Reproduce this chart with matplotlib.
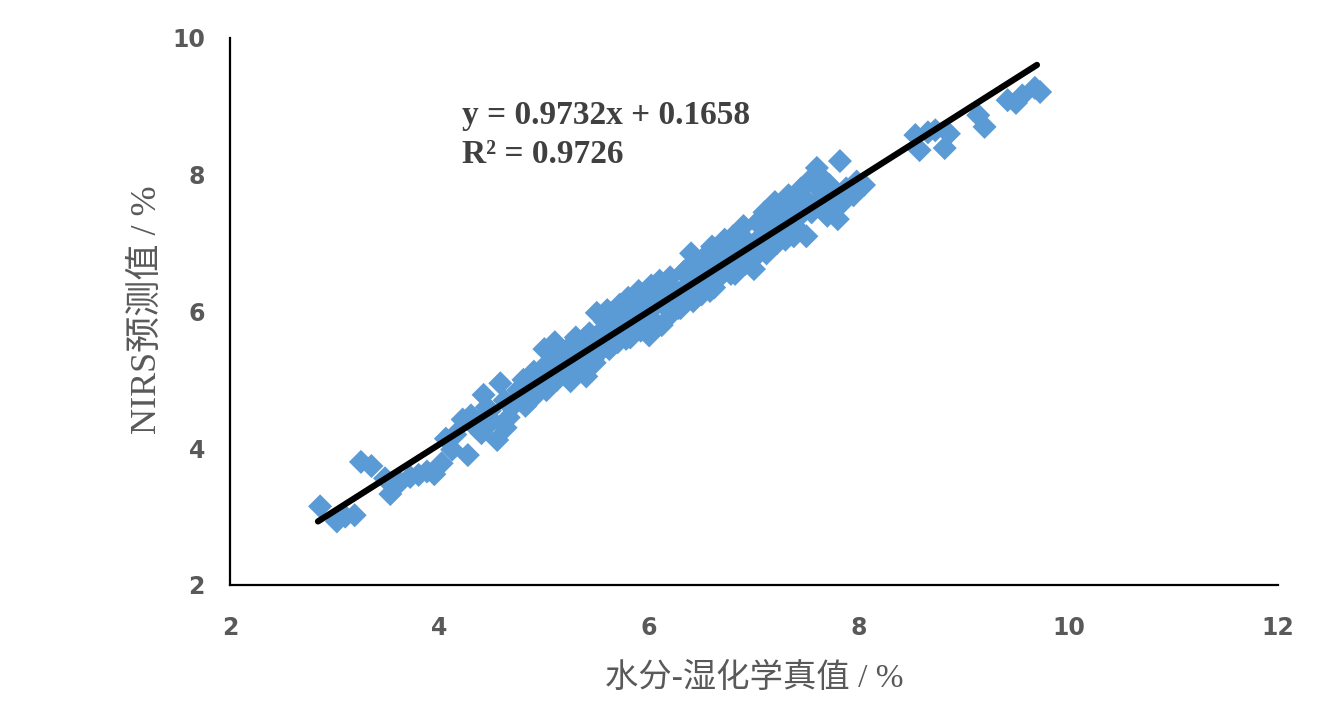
import matplotlib
matplotlib.use("Agg")
import matplotlib.pyplot as plt

# ---- data ----
x_true = [2.86, 3.02, 3.10, 3.19, 3.25, 3.35, 3.48, 3.53, 3.62, 3.72, 3.80, 3.88, 3.95, 4.02, 4.06,
          4.12, 4.22, 4.27, 4.30, 4.35, 4.40, 4.45, 4.50, 4.55, 4.58, 4.62, 4.66, 4.70, 4.75,
          4.80, 4.82, 4.85, 4.90, 4.92, 4.95, 5.00, 5.02, 5.05, 5.10, 5.12, 5.15,
          5.20, 5.22, 5.25, 5.30, 5.33, 5.36, 5.40, 5.43, 5.46, 5.50, 5.52, 5.55,
          5.60, 5.62, 5.65, 5.70, 5.72, 5.75, 5.80, 5.82, 5.85, 5.90, 5.92, 5.95,
          6.00, 6.02, 6.05, 6.10, 6.12, 6.15, 6.20, 6.22, 6.25, 6.30, 6.33, 6.36,
          6.40, 6.42, 6.45, 6.50, 6.53, 6.56, 6.60, 6.62, 6.65, 6.70, 6.72, 6.75,
          6.80, 6.82, 6.85, 6.90, 6.92, 6.95, 7.00, 7.03, 7.06, 7.10, 7.12, 7.15,
          7.20, 7.22, 7.25, 7.30, 7.33, 7.36, 7.40, 7.42, 7.45, 7.50, 7.52, 7.55,
          7.60, 7.62, 7.65, 7.70, 7.72, 7.75, 7.80, 7.82, 7.85, 7.92, 7.98, 8.05,
          8.54, 8.58, 8.66, 8.73, 8.82, 8.86, 9.14, 9.20, 9.42, 9.50, 9.56, 9.68, 9.73,
          4.15, 4.42, 4.48, 4.63, 4.78, 4.87, 4.88, 4.97, 4.98, 5.07, 5.08, 5.17, 5.18,
          5.27, 5.28, 5.37, 5.38, 5.47, 5.48, 5.57, 5.58, 5.67, 5.68, 5.77, 5.78,
          5.87, 5.88, 5.97, 5.98, 6.07, 6.08, 6.17, 6.18, 6.27, 6.28, 6.37, 6.38,
          6.47, 6.48, 6.57, 6.58, 6.67, 6.68, 6.77, 6.78, 6.87, 6.88, 6.97, 6.98,
          7.07, 7.08, 7.17, 7.18, 7.27, 7.28, 7.37, 7.38, 7.47, 7.48, 7.57, 7.58,
          7.67, 7.68, 7.77, 7.78, 7.88, 7.95]
y_pred = [3.15, 2.93, 3.00, 3.02, 3.80, 3.74, 3.56, 3.33, 3.50, 3.58, 3.61, 3.66, 3.62, 3.78, 4.14,
          3.98, 4.42, 3.90, 4.48, 4.30, 4.22, 4.60, 4.40, 4.12, 4.95, 4.70, 4.45, 4.62, 4.85,
          5.00, 4.62, 4.75, 5.12, 4.82, 5.05, 5.45, 4.85, 5.25, 5.55, 5.00, 5.35,
          5.10, 5.45, 4.98, 5.62, 5.20, 5.48, 5.05, 5.68, 5.30, 5.98, 5.40, 5.72,
          6.02, 5.45, 5.85, 5.55, 6.10, 5.70, 6.20, 5.62, 5.95, 6.30, 5.72, 6.10,
          5.65, 6.38, 5.85, 6.45, 5.80, 6.25, 6.50, 5.98, 6.30, 6.05, 6.58, 6.20,
          6.85, 6.15, 6.60, 6.25, 6.80, 6.45, 6.95, 6.35, 6.75, 6.55, 7.05, 6.70,
          7.10, 6.55, 6.90, 7.25, 6.70, 7.00, 6.62, 7.30, 6.90, 7.45, 6.85, 7.20,
          7.60, 7.00, 7.35, 7.05, 7.70, 7.25, 7.55, 7.20, 7.80, 7.10, 7.90, 7.45,
          8.10, 7.60, 7.95, 7.40, 7.85, 7.65, 7.35, 8.20, 7.60, 7.75, 7.90, 7.85,
          8.58, 8.36, 8.62, 8.65, 8.39, 8.60, 8.87, 8.70, 9.09, 9.05, 9.16, 9.27, 9.21,
          4.20, 4.78, 4.55, 4.30, 4.80, 4.98, 4.72, 5.15, 4.90, 5.05, 5.30, 5.15, 5.42,
          5.30, 5.12, 5.35, 5.60, 5.55, 5.25, 5.60, 5.85, 5.65, 5.95, 5.85, 5.60,
          5.80, 6.05, 5.90, 6.25, 6.10, 6.35, 6.05, 6.40, 6.25, 6.05, 6.40, 6.65,
          6.45, 6.25, 6.60, 6.30, 6.65, 6.90, 6.80, 6.55, 6.85, 7.10, 6.95, 6.75,
          7.10, 7.35, 7.15, 6.95, 7.25, 7.50, 7.40, 7.10, 7.45, 7.65, 7.55, 7.85,
          7.70, 7.45, 7.75, 7.55, 7.80, 7.70]

slope = 0.9732
intercept = 0.1658
line_x = [2.84, 9.70]
equation_text = "y = 0.9732x + 0.1658"
r2_text = "R² = 0.9726"
x_ticks = [2, 4, 6, 8, 10, 12]
y_ticks = [2, 4, 6, 8, 10]
x_label = "水分-湿化学真值 / %"
y_label = "NIRS预测值 / %"

fig = plt.figure(figsize=(13.3, 7.14), dpi=100)
ax = fig.add_axes([0.1729, 0.1807, 0.9609 - 0.1729, 0.9468 - 0.1807])

ax.scatter(x_true, y_pred, marker='D', s=150, color='#5B9BD5', edgecolors='none', zorder=2)
line_y = [slope * v + intercept for v in line_x]
ax.plot(line_x, line_y, color='black', lw=4.5, solid_capstyle='round', zorder=3)

ax.set_xlim(2, 12)
ax.set_ylim(2, 10)
ax.set_xticks(x_ticks)
ax.set_yticks(y_ticks)
ax.set_xticklabels([str(t) for t in x_ticks])
ax.set_yticklabels([str(t) for t in y_ticks])
for sp in ['top', 'right']:
    ax.spines[sp].set_visible(False)
for sp in ['left', 'bottom']:
    ax.spines[sp].set_linewidth(1.6)
    ax.spines[sp].set_color('black')
ax.tick_params(axis='x', length=0, pad=22, labelsize=17, labelcolor='#595959')
ax.tick_params(axis='y', length=0, pad=18, labelsize=17, labelcolor='#595959')
for lab in ax.get_xticklabels() + ax.get_yticklabels():
    lab.set_fontweight('bold')
    lab.set_family(['DejaVu Sans'])

fam = ['Liberation Serif', 'Noto Sans CJK SC']
fig.text(0.567, 0.050, x_label, ha='center', va='center', fontsize=24,
         color='#595959', family=fam)
fig.text(0.111, 0.566, y_label, ha='center', va='center', fontsize=26,
         color='#595959', family=fam, rotation=90)

ax.text(4.21, 8.87, equation_text, ha='left', va='center', fontsize=24,
        fontweight='bold', color='#404040', family='Liberation Serif')
ax.text(4.21, 8.29, r2_text, ha='left', va='center', fontsize=24,
        fontweight='bold', color='#404040', family='Liberation Serif')

fig.savefig('out.png', dpi=100, facecolor='white')
